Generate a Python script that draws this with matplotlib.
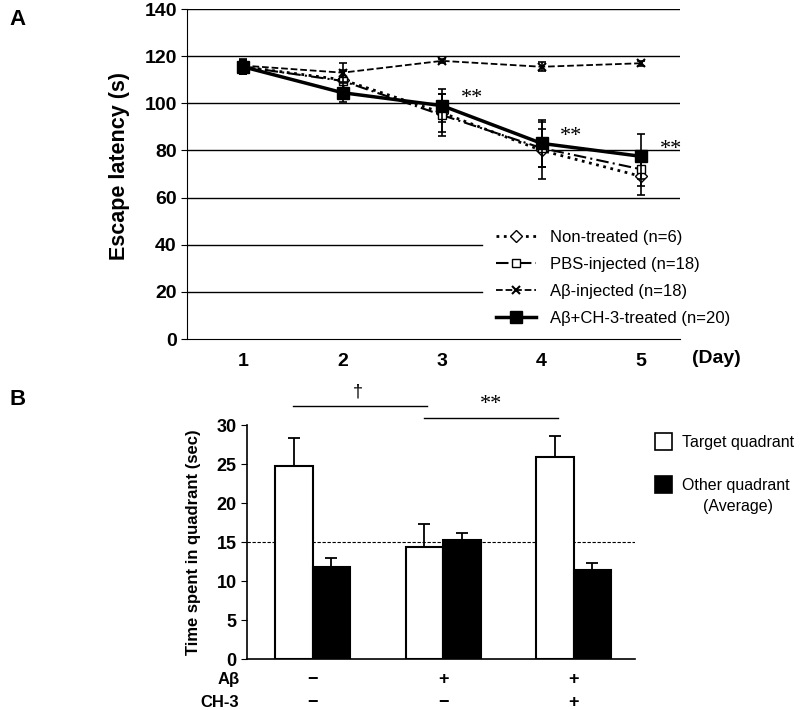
import numpy as np
import matplotlib
matplotlib.use("Agg")
import matplotlib.pyplot as plt
from matplotlib.lines import Line2D
from matplotlib.patches import Rectangle

plt.rcParams['font.family'] = ['Liberation Sans', 'DejaVu Sans']

# Panel A data
days = [1, 2, 3, 4, 5]
non_treated = [115.5, 110, 96, 80, 69]
non_treated_err = [3, 4, 8, 12, 8]
pbs = [115.5, 109.5, 95, 81, 72]
pbs_err = [3, 4, 9, 8, 7]
abeta = [116, 113, 118, 115.5, 117]
abeta_err = [3, 4, 1, 2, 1]
ch3 = [115.5, 104.5, 99, 83, 77.5]
ch3_err = [3, 4, 7, 10, 9.5]
star_days = [3, 4, 5]

# Panel B data
groups = [0, 1, 2]
target = [24.7, 14.4, 25.9]
target_err = [3.6, 2.9, 2.7]
other = [11.8, 15.2, 11.4]
other_err = [1.2, 1.0, 0.9]
abeta_row = ['\u2212', '+', '+']
ch3_row = ['\u2212', '\u2212', '+']

fig = plt.figure(figsize=(8, 7.1), dpi=100)

# ---------- Panel A ----------
ax = fig.add_axes([0.234, 0.5225, 0.616, 0.4648])
for y in [60, 80, 100, 120, 140]:
    ax.axhline(y, color='black', lw=1, zorder=0)
for y in [20, 40]:
    ax.axhline(y, xmax=0.598, color='black', lw=1, zorder=0)

styles = [
    (non_treated, non_treated_err, dict(ls=':', lw=2, marker='D', ms=6, mfc='white'), 'Non-treated (n=6)'),
    (pbs, pbs_err, dict(ls=(0, (6, 2, 1, 2)), lw=1.5, marker='s', ms=6, mfc='white'), 'PBS-injected (n=18)'),
    (abeta, abeta_err, dict(ls='--', lw=1.3, marker='x', ms=6, mew=1.5), 'A\u03b2-injected (n=18)'),
    (ch3, ch3_err, dict(ls='-', lw=2.5, marker='s', ms=9, mfc='black'), 'A\u03b2+CH-3-treated (n=20)'),
]
handles = []
for vals, errs, kw, lab in styles:
    ax.errorbar(days, vals, yerr=errs, fmt='none', ecolor='black', elinewidth=1.2,
                capsize=3, capthick=1.2)
    ax.plot(days, vals, color='black', mec='black', **kw)
    handles.append(Line2D([], [], color='black', mec='black', label=lab, **kw))

for d in star_days:
    ax.text(d + 0.3, ch3[d - 1] + 3, '**', fontsize=16, family='Liberation Serif',
            ha='center', va='center')

ax.set_xlim(0.44, 5.39)
ax.set_ylim(0, 140)
ax.set_yticks(range(0, 141, 20))
ax.set_xticks(days)
ax.tick_params(axis='x', length=0, pad=10)
ax.tick_params(axis='y', length=4, direction='out')
for lab in ax.get_xticklabels() + ax.get_yticklabels():
    lab.set_fontsize(14)
    lab.set_fontweight('bold')
for s in ['top', 'right']:
    ax.spines[s].set_visible(False)
ax.set_ylabel('Escape latency (s)', fontsize=15.5, fontweight='bold')
ax.yaxis.set_label_coords(-0.116, 0.524)
ax.text(1.025, -0.058, '(Day)', transform=ax.transAxes, fontsize=14, fontweight='bold',
        va='center', ha='left')
ax.legend(handles=handles, loc='lower left', bbox_to_anchor=(0.6, 0.0), fontsize=12,
          frameon=False, handlelength=2.4, labelspacing=0.72, borderpad=0.3)

fig.text(0.012, 0.972, 'A', fontsize=16, fontweight='bold', va='center')

# ---------- Panel B ----------
bx = fig.add_axes([0.309, 0.0718, 0.485, 0.3296])
w = 0.286
x = np.array(groups)
ekw = dict(ecolor='black', capsize=4, lw=1.3, capthick=1.3)
bx.bar(x - w / 2, target, w, color='white', edgecolor='black', lw=1.5,
       yerr=[np.zeros(3), target_err], error_kw=ekw)
bx.bar(x + w / 2, other, w, color='black', edgecolor='black', lw=1.5,
       yerr=[np.zeros(3), other_err], error_kw=ekw)
bx.axhline(15, color='black', ls='--', lw=0.8, dashes=(3, 1.5), zorder=0)

bx.set_xlim(-0.5, 2.47)
bx.set_ylim(0, 30)
bx.set_yticks(range(0, 31, 5))
bx.set_xticks([])
bx.tick_params(axis='y', length=4)
for lab in bx.get_yticklabels():
    lab.set_fontsize(13)
    lab.set_fontweight('bold')
for s in ['top', 'right']:
    bx.spines[s].set_visible(False)
bx.spines['left'].set_linewidth(1.2)
bx.spines['bottom'].set_linewidth(1.2)
bx.set_ylabel('Time spent in quadrant (sec)', fontsize=12, fontweight='bold')
bx.yaxis.set_label_coords(-0.12, 0.5)

# significance brackets
bx.plot([-0.15, 0.88], [32.4, 32.4], color='black', lw=1, clip_on=False)
bx.text(0.35, 34.2, '\u2020', ha='center', va='center', fontsize=13)
bx.plot([0.85, 1.88], [30.9, 30.9], color='black', lw=1, clip_on=False)
bx.text(1.37, 32.6, '**', ha='center', va='center', fontsize=16, family='Liberation Serif')

# treatment rows
bx.text(-0.56, -2.6, 'A\u03b2', ha='right', va='center', fontsize=12, fontweight='bold')
bx.text(-0.56, -5.6, 'CH-3', ha='right', va='center', fontsize=12, fontweight='bold')
for g, a, c in zip(groups, abeta_row, ch3_row):
    bx.text(g, -2.6, a, ha='center', va='center', fontsize=13, fontweight='bold')
    bx.text(g, -5.6, c, ha='center', va='center', fontsize=13, fontweight='bold')

# legend for panel B
fig.add_artist(Rectangle((0.819, 0.366), 0.021, 0.024, facecolor='white',
                         edgecolor='black', lw=1.2, transform=fig.transFigure))
fig.add_artist(Rectangle((0.819, 0.3056), 0.021, 0.024, facecolor='black',
                         edgecolor='black', lw=1.2, transform=fig.transFigure))
fig.text(0.852, 0.377, 'Target quadrant', fontsize=11.5, va='center', ha='left')
fig.text(0.852, 0.3165, 'Other quadrant', fontsize=11.5, va='center', ha='left')
fig.text(0.922, 0.2865, '(Average)', fontsize=11.5, va='center', ha='center')

fig.text(0.012, 0.437, 'B', fontsize=16, fontweight='bold', va='center')

fig.savefig('out.png', dpi=100)
